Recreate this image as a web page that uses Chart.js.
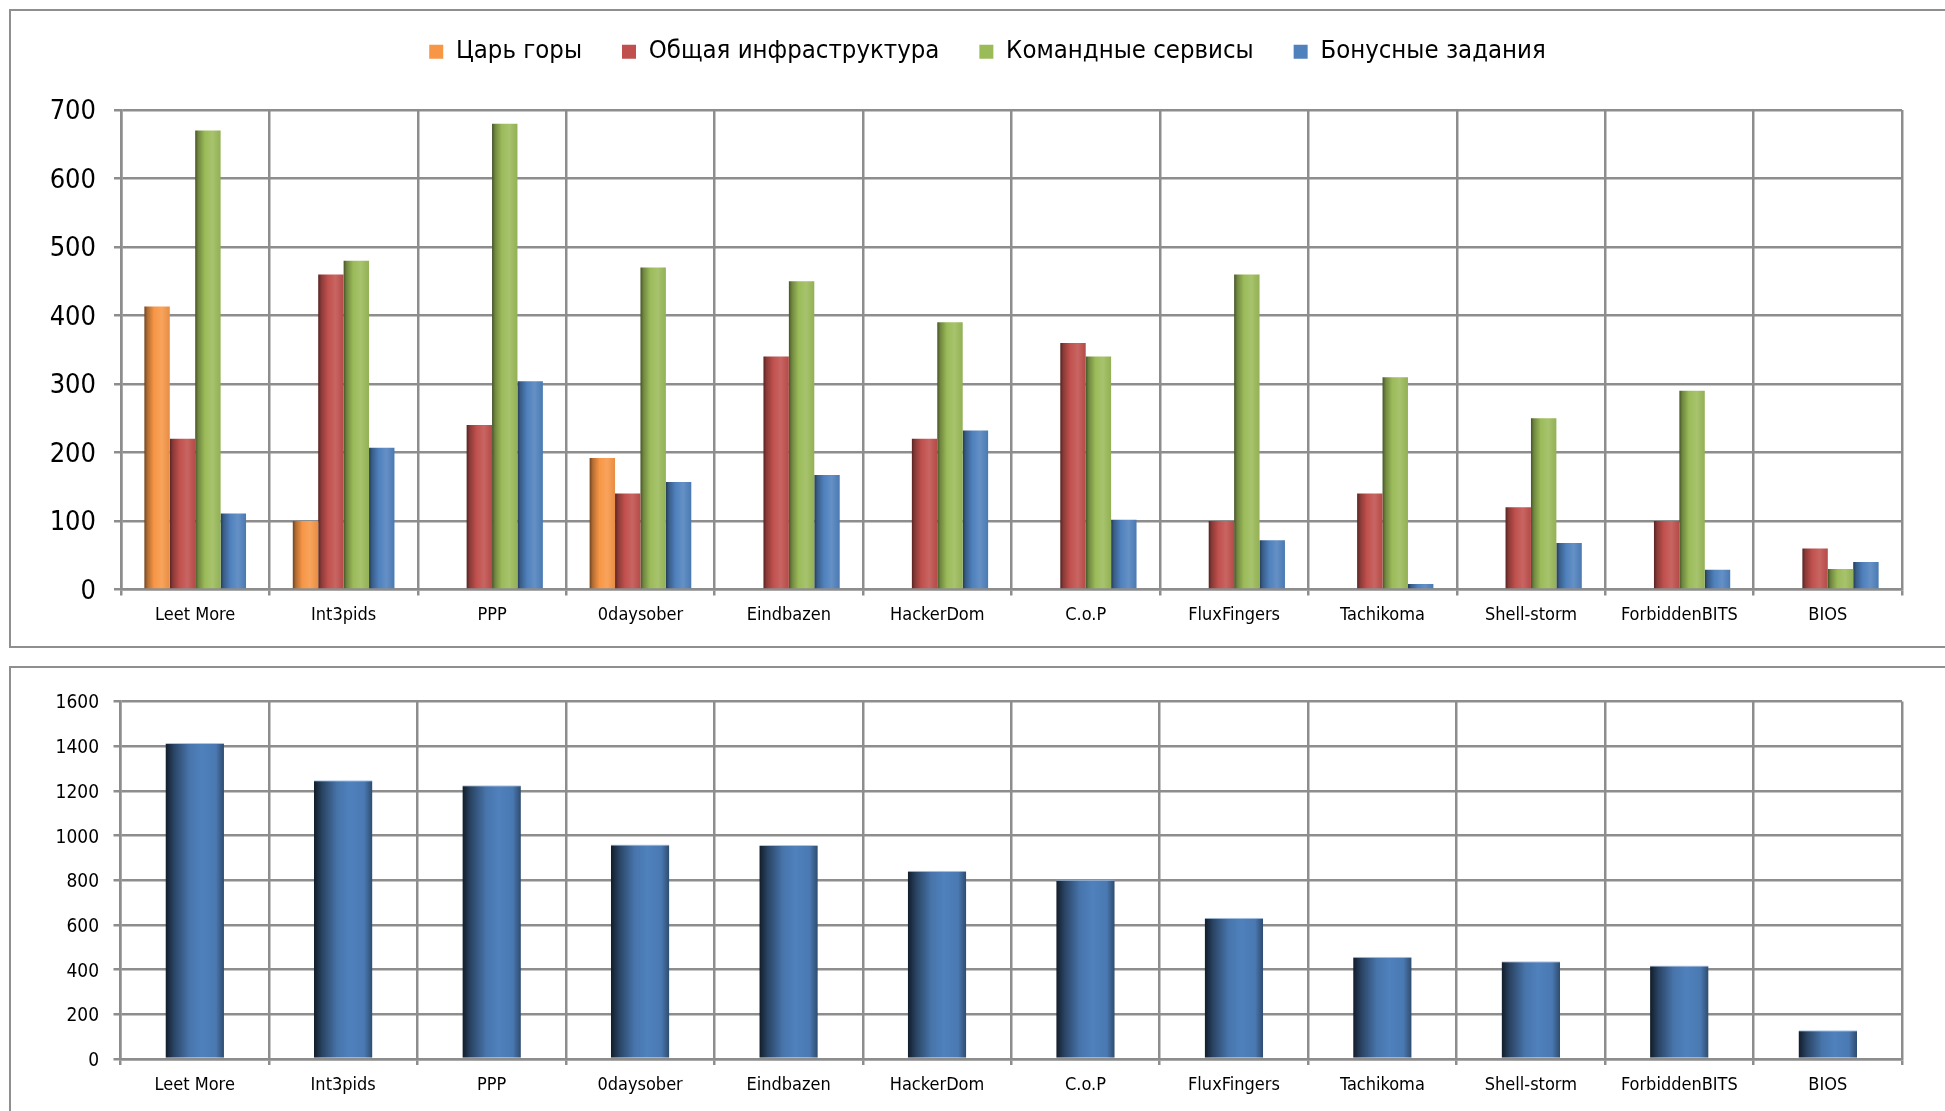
<!DOCTYPE html>
<html>
<head>
<meta charset="utf-8">
<title>CTF — очки команд</title>
<script src="https://cdn.jsdelivr.net/npm/chart.js@4.4.1/dist/chart.umd.min.js"></script>
<style>
  html, body { margin: 0; padding: 0; background: #fff; overflow: hidden; width: 1945px; height: 1111px; }
  .panel { position: absolute; box-sizing: border-box; border: 2px solid #8f8f8f; background: #fff; }
  #panelTop { left: 9px; top: 9px; width: 1960px; height: 639px; }
  #panelBottom { left: 9px; top: 666px; width: 1960px; height: 500px; }
  canvas { position: absolute; left: 0; top: 0; }
</style>
</head>
<body>
<div class="panel" id="panelTop"><canvas id="detail" width="1933" height="633"></canvas></div>
<div class="panel" id="panelBottom"><canvas id="total" width="1933" height="443"></canvas></div>

<script>
// Teams, in final standings order
const teams = ['Leet More', 'Int3pids', 'PPP', '0daysober', 'Eindbazen', 'HackerDom',
               'C.o.P', 'FluxFingers', 'Tachikoma', 'Shell-storm', 'ForbiddenBITS', 'BIOS'];

// Score categories
const seriesNames = ['Царь горы', 'Общая инфраструктура', 'Командные сервисы', 'Бонусные задания'];

// Points per category
const kingOfHill     = [413, 100,   0, 192,   0,   0,   0,   0,   0,   0,   0,  0];
const infrastructure = [220, 460, 240, 140, 340, 220, 360, 100, 140, 120, 100, 60];
const teamServices   = [670, 480, 680, 470, 450, 390, 340, 460, 310, 250, 290, 30];
const bonusTasks     = [111, 207, 304, 157, 167, 232, 102,  72,   8,  68,  29, 40];

// Overall score
const totalScore = [1414, 1247, 1225, 960, 958, 842, 802, 632, 458, 437, 418, 129];

// Value-axis ticks
const detailTicks = [0, 100, 200, 300, 400, 500, 600, 700];
const totalTicks  = [0, 200, 400, 600, 800, 1000, 1200, 1400, 1600];

// ---- styling ----
const FONT = "'DejaVu Sans Condensed', 'DejaVu Sans', sans-serif";
const GRID = '#8d8d8d';
const seriesColors = ['#f79646', '#c0504d', '#9bbb59', '#4f81bd'];
const totalColor = '#4f81bd';

function hexToRgb(h) {
  const n = parseInt(h.slice(1), 16);
  return [(n >> 16) & 255, (n >> 8) & 255, n & 255];
}
function mix(hex, target, t) {
  const a = hexToRgb(hex), b = hexToRgb(target);
  const c = a.map((v, i) => Math.round(v + (b[i] - v) * t));
  return `rgb(${c[0]},${c[1]},${c[2]})`;
}

// Horizontal shading that gives each bar a rounded, cylinder-like look
function seriesShade(base) {
  return [
    [0.00, mix(base, '#000000', 0.55)],
    [0.12, mix(base, '#000000', 0.28)],
    [0.38, base],
    [0.68, mix(base, '#ffffff', 0.12)],
    [1.00, mix(base, '#000000', 0.06)]
  ];
}
function totalShade(base) {
  return [
    [0.00, mix(base, '#000000', 0.78)],
    [0.14, mix(base, '#000000', 0.48)],
    [0.40, mix(base, '#000000', 0.10)],
    [0.62, base],
    [0.86, mix(base, '#000000', 0.06)],
    [1.00, mix(base, '#000000', 0.42)]
  ];
}

const cylinderPlugin = {
  id: 'cylinder',
  beforeDatasetsDraw(chart, args, opts) {
    const ctx = chart.ctx;
    chart.data.datasets.forEach((ds, i) => {
      const meta = chart.getDatasetMeta(i);
      if (meta.hidden) return;
      const stops = opts.shades[i];
      meta.data.forEach(bar => {
        const { x, width } = bar.getProps(['x', 'width'], true);
        const g = ctx.createLinearGradient(x - width / 2, 0, x + width / 2, 0);
        stops.forEach(([o, c]) => g.addColorStop(o, c));
        bar.options = Object.assign({}, bar.options, { backgroundColor: g });
      });
    });
  }
};

// Centre the legend row over the plot rather than over the whole panel
const legendShiftPlugin = {
  id: 'legendShift',
  afterLayout(chart, args, opts) {
    if (!chart.legend) return;
    chart.legend.left += opts.dx;
    chart.legend.right += opts.dx;
  }
};

function scales(cfg) {
  return {
    x: {
      grid: { color: GRID, lineWidth: 2.5, tickLength: 6, offset: true, drawTicks: true },
      border: { color: GRID, width: 2.5 },
      ticks: { color: '#000', font: { family: FONT, size: 18 }, padding: cfg.xPad,
               maxRotation: 0, autoSkip: false },
      afterFit: s => { s.height = cfg.xHeight; }
    },
    y: {
      min: cfg.ticks[0],
      max: cfg.ticks[cfg.ticks.length - 1],
      grid: { color: GRID, lineWidth: 2.5, tickLength: 7, drawTicks: true },
      border: { color: GRID, width: 2.5 },
      ticks: { stepSize: cfg.ticks[1] - cfg.ticks[0], color: '#000',
               font: { family: FONT, size: cfg.yFont }, padding: cfg.yPad,
               labelOffset: 2, callback: v => String(v) },
      afterFit: s => { s.width = cfg.yWidth; }
    }
  };
}

// ---- per-category chart ----
const seriesData = [kingOfHill, infrastructure, teamServices, bonusTasks];

new Chart(document.getElementById('detail'), {
  type: 'bar',
  data: {
    labels: teams,
    datasets: seriesNames.map((name, i) => ({
      label: name,
      data: seriesData[i],
      backgroundColor: seriesColors[i],
      borderWidth: 0,
      categoryPercentage: 0.685,
      barPercentage: 1.0
    }))
  },
  options: {
    responsive: false,
    animation: false,
    devicePixelRatio: 1,
    events: [],
    layout: { padding: { top: -12, left: 0, right: 42, bottom: 0 } },
    scales: scales({ ticks: detailTicks, yFont: 27, yPad: 18, yWidth: 110, xPad: 9, xHeight: 54.5 }),
    plugins: {
      legend: {
        position: 'top',
        align: 'center',
        labels: { boxWidth: 14, boxHeight: 14, padding: 40, color: '#000',
                  font: { family: FONT, size: 25.5 } }
      },
      title: { display: true, text: '', weight: 500,
               font: { size: 1, lineHeight: 1 }, padding: { top: 34.5, bottom: 0 } },
      tooltip: { enabled: false },
      cylinder: { shades: seriesColors.map(seriesShade) },
      legendShift: { dx: 31 }
    }
  },
  plugins: [cylinderPlugin, legendShiftPlugin]
});

// ---- total score chart ----
new Chart(document.getElementById('total'), {
  type: 'bar',
  data: {
    labels: teams,
    datasets: [{
      label: 'Сумма',
      data: totalScore,
      backgroundColor: totalColor,
      borderColor: '#a9c6ea',
      borderWidth: { top: 1, left: 0, right: 0, bottom: 0 },
      categoryPercentage: 0.394,
      barPercentage: 1.0
    }]
  },
  options: {
    responsive: false,
    animation: false,
    devicePixelRatio: 1,
    events: [],
    layout: { padding: { top: 33.5, left: 0, right: 42, bottom: 0 } },
    scales: scales({ ticks: totalTicks, yFont: 19, yPad: 14.5, yWidth: 109.5, xPad: 9.5, xHeight: 52 }),
    plugins: {
      legend: { display: false },
      tooltip: { enabled: false },
      cylinder: { shades: [totalShade(totalColor)] }
    }
  },
  plugins: [cylinderPlugin]
});
</script>
</body>
</html>
